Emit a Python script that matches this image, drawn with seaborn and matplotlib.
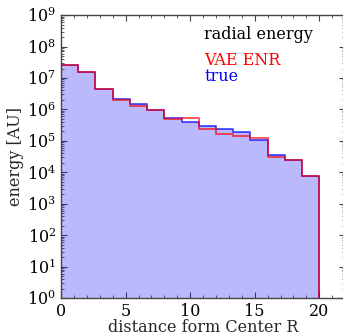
import matplotlib
matplotlib.use("Agg")
import matplotlib.pyplot as plt
import matplotlib.ticker as mticker
import numpy as np
import pandas as pd
import seaborn as sns

# 15 radial bins from 0 to 20
bin_edges = list(np.linspace(0, 20, 16))
bin_centers = [0.5 * (a + b) for a, b in zip(bin_edges[:-1], bin_edges[1:])]

true_energy = [2.5e7, 1.55e7, 4.6e6, 2.2e6, 1.5e6, 9.5e5, 5.3e5, 4.1e5,
               2.9e5, 2.4e5, 1.85e5, 1.07e5, 3.6e4, 2.4e4, 7.5e3]
vae_energy = [2.5e7, 1.6e7, 4.6e6, 2.0e6, 1.3e6, 9.5e5, 4.9e5, 5.3e5,
              2.4e5, 1.7e5, 1.45e5, 1.2e5, 3.1e4, 2.4e4, 7.5e3]

data = pd.DataFrame({
    "r": bin_centers,
    "true": true_energy,
    "vae": vae_energy,
})

sns.set_style("ticks", {
    "xtick.direction": "in",
    "ytick.direction": "in",
})
plt.rcParams["font.family"] = ["DejaVu Serif"]
plt.rcParams["mathtext.fontset"] = "dejavuserif"
plt.rcParams["axes.edgecolor"] = "#444444"
plt.rcParams["xtick.color"] = "#444444"
plt.rcParams["ytick.color"] = "#444444"
plt.rcParams["xtick.labelcolor"] = "black"
plt.rcParams["ytick.labelcolor"] = "black"

figure = plt.figure(figsize=(3.43, 3.36), dpi=100)
ax = figure.add_axes([0.178, 0.113, 1.006 - 0.178, 0.955 - 0.113])

# true: shaded histogram with a blue outline
sns.histplot(
    data=data, x="r", weights="true", bins=bin_edges,
    element="step", fill=True, ax=ax, color="blue",
    facecolor=(0.1, 0.1, 0.95, 0.3), edgecolor=(0, 0, 1, 0.7),
    linewidth=1.3)
# VAE ENR: red outline only
sns.histplot(
    data=data, x="r", weights="vae", bins=bin_edges,
    element="step", fill=True, ax=ax, color="red",
    facecolor="none", edgecolor=(1, 0, 0, 0.7), linewidth=1.3)

ax.set_yscale("log")
ax.set_ylim(1, 1e9)
ax.set_xlim(0, 22)
ax.xaxis.set_major_locator(mticker.FixedLocator([0, 5, 10, 15, 20]))
ax.xaxis.set_minor_locator(mticker.MultipleLocator(1))
ax.yaxis.set_major_locator(mticker.LogLocator(base=10, numticks=12))
ax.yaxis.set_minor_locator(
    mticker.LogLocator(base=10, subs=np.arange(2, 10), numticks=12))
ax.yaxis.set_minor_formatter(mticker.NullFormatter())
ax.tick_params(which="both", top=True, right=True, labelsize=11.5)
ax.tick_params(which="major", length=4, width=0.8)
ax.tick_params(which="minor", length=2, width=0.6)
for side in ["top", "right", "bottom", "left"]:
    ax.spines[side].set_visible(True)
    ax.spines[side].set_linewidth(1.0)

ax.set_xlabel("distance form Center R", fontsize=11.5, labelpad=-1)
ax.set_ylabel("energy [AU]", fontsize=11.5, labelpad=2)

ax.text(0.505, 0.915, "radial energy", transform=ax.transAxes,
        fontsize=11.5, color="black")
ax.text(0.505, 0.824, "VAE ENR", transform=ax.transAxes,
        fontsize=11.5, color="red")
ax.text(0.505, 0.767, "true", transform=ax.transAxes,
        fontsize=11.5, color="blue")

plt.savefig("out.png", dpi=100)
